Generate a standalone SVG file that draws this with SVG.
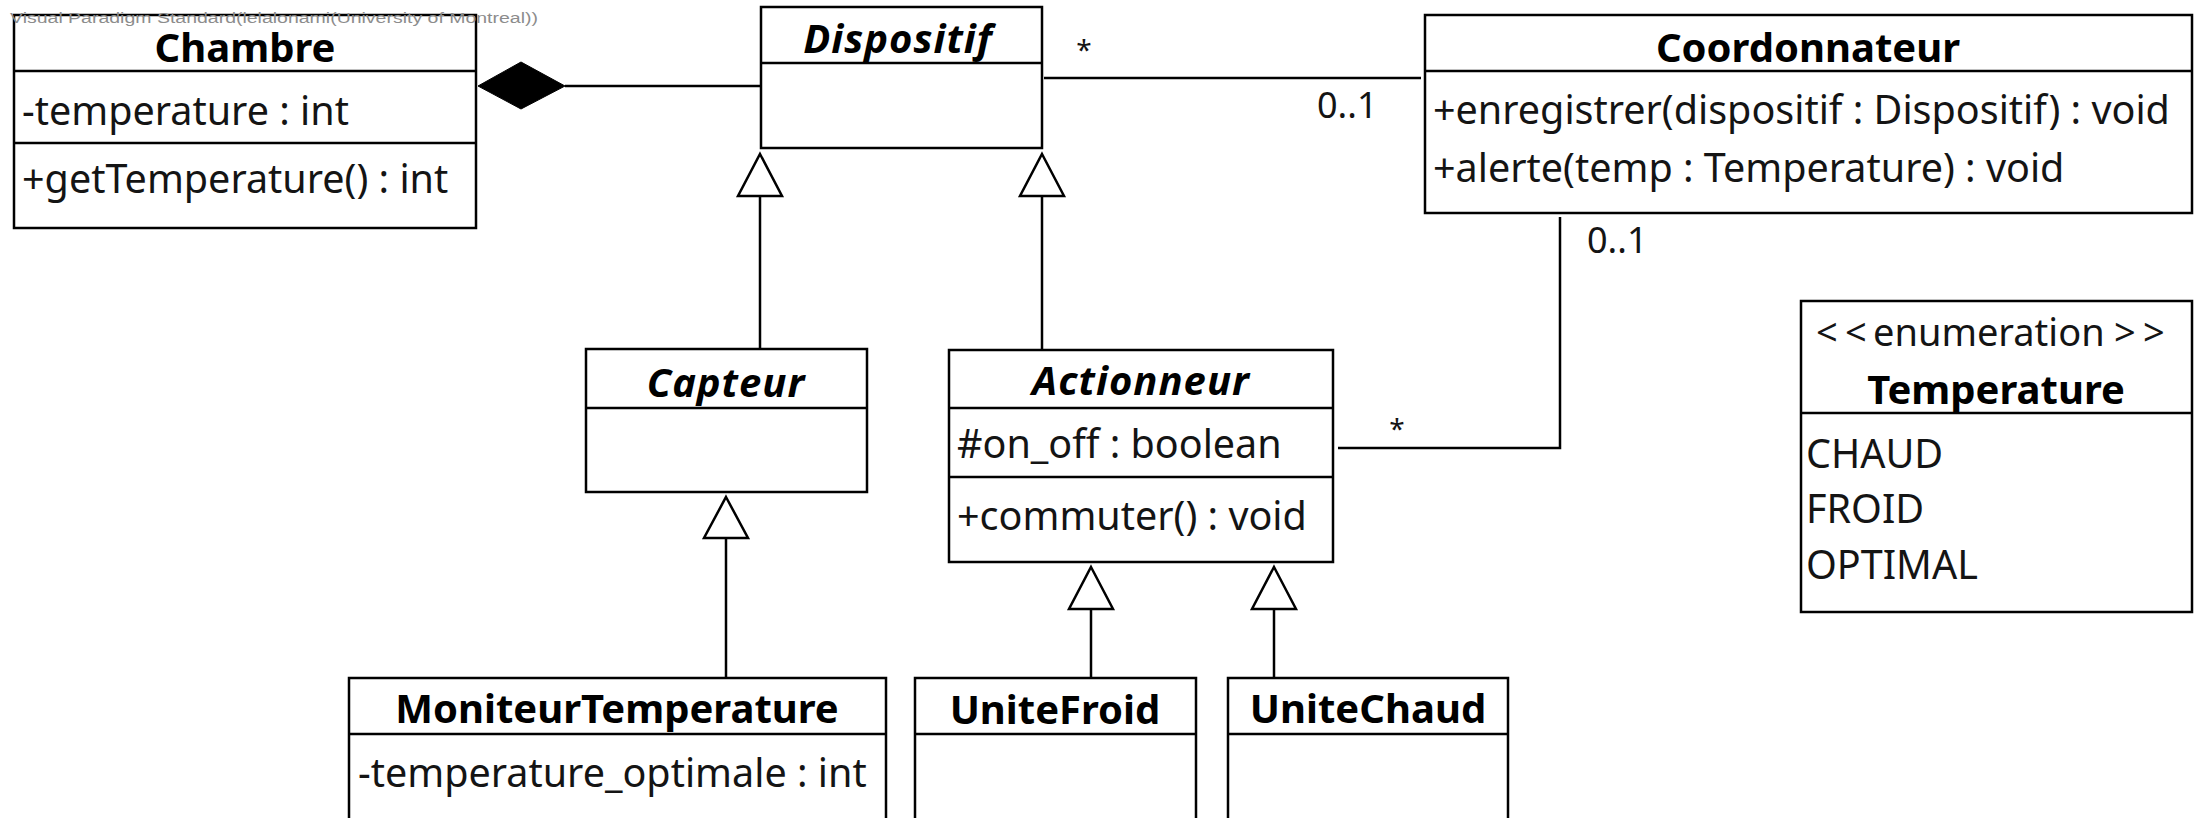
<svg xmlns="http://www.w3.org/2000/svg" width="2206" height="818" viewBox="0 0 2206 818">
  <style>
    .box { fill: #ffffff; stroke: #000000; stroke-width: 2.5; }
    .sep { stroke: #000000; stroke-width: 2.5; }
    .edge { fill: none; stroke: #000000; stroke-width: 2.5; }
    .gen { fill: #ffffff; stroke: #000000; stroke-width: 2.5; stroke-linejoin: miter; }
    .comp { fill: #000000; stroke: #000000; stroke-width: 1; }
    .title { font-family: "Noto Sans", "Open Sans", sans-serif; font-size: 40px; font-weight: bold; fill: #000000; text-anchor: middle; }
    .abstract { font-style: italic; letter-spacing: 1px; }
    .member { font-family: "Noto Sans", "Open Sans", sans-serif; font-size: 39.5px; fill: #141414; }
    .stereo { font-family: "Noto Sans", "Open Sans", sans-serif; font-size: 38px; fill: #141414; }
    .mult { font-family: "Noto Sans", "Open Sans", sans-serif; font-size: 36px; fill: #141414; }
    .star { font-family: "Noto Sans", "Open Sans", sans-serif; font-size: 28px; fill: #141414; text-anchor: middle; }
    .mark { font-family: "Liberation Sans", Arial, sans-serif; font-size: 14px; fill: #8c8c8c; }
  </style>

  <rect x="0" y="0" width="2206" height="818" fill="#ffffff"/>

  <!-- connectors -->
  <g id="connectors">
    <!-- composition Chambre <>- Dispositif -->
    <line class="edge" x1="565" y1="86" x2="760" y2="86"/>
    <polygon class="comp" points="478,86 521,62 565,86 521,109"/>

    <!-- association Dispositif - Coordonnateur -->
    <line class="edge" x1="1044" y1="78" x2="1421" y2="78"/>
    <text class="star" x="1084" y="60">*</text>
    <text class="mult" x="1317" y="118">0..1</text>

    <!-- association Actionneur - Coordonnateur -->
    <polyline class="edge" points="1338,448 1560,448 1560,217"/>
    <text class="star" x="1397" y="439">*</text>
    <text class="mult" x="1587" y="253">0..1</text>

    <!-- Capteur -> Dispositif -->
    <line class="edge" x1="760" y1="196" x2="760" y2="349"/>
    <polygon class="gen" points="760,154 782,196 738,196"/>

    <!-- Actionneur -> Dispositif -->
    <line class="edge" x1="1042" y1="196" x2="1042" y2="350"/>
    <polygon class="gen" points="1042,154 1064,196 1020,196"/>

    <!-- MoniteurTemperature -> Capteur -->
    <line class="edge" x1="726" y1="538" x2="726" y2="678"/>
    <polygon class="gen" points="726,497 748,538 704,538"/>

    <!-- UniteFroid -> Actionneur -->
    <line class="edge" x1="1091" y1="609" x2="1091" y2="678"/>
    <polygon class="gen" points="1091,567 1113,609 1069,609"/>

    <!-- UniteChaud -> Actionneur -->
    <line class="edge" x1="1274" y1="609" x2="1274" y2="678"/>
    <polygon class="gen" points="1274,567 1296,609 1252,609"/>
  </g>

  <!-- Chambre -->
  <g id="chambre">
    <rect class="box" x="14" y="15" width="462" height="213"/>
    <line class="sep" x1="14" y1="71" x2="476" y2="71"/>
    <line class="sep" x1="14" y1="143" x2="476" y2="143"/>
    <text class="title" x="245" y="62">Chambre</text>
    <text class="member" x="22" y="125">-temperature : int</text>
    <text class="member" x="22" y="193">+getTemperature() : int</text>
  </g>

  <text class="mark" x="10" y="23" textLength="528" lengthAdjust="spacingAndGlyphs">Visual Paradigm Standard(lelalonami(University of Montreal))</text>

  <!-- Dispositif -->
  <g id="dispositif">
    <rect class="box" x="761" y="7" width="281" height="141"/>
    <line class="sep" x1="761" y1="63" x2="1042" y2="63"/>
    <text class="title abstract" x="898" y="53">Dispositif</text>
  </g>

  <!-- Coordonnateur -->
  <g id="coordonnateur">
    <rect class="box" x="1425" y="15" width="767" height="198"/>
    <line class="sep" x1="1425" y1="71" x2="2192" y2="71"/>
    <text class="title" x="1808" y="62">Coordonnateur</text>
    <text class="member" x="1433" y="124">+enregistrer(dispositif : Dispositif) : void</text>
    <text class="member" x="1433" y="182">+alerte(temp : Temperature) : void</text>
  </g>

  <!-- Capteur -->
  <g id="capteur">
    <rect class="box" x="586" y="349" width="281" height="143"/>
    <line class="sep" x1="586" y1="408" x2="867" y2="408"/>
    <text class="title abstract" x="726" y="397">Capteur</text>
  </g>

  <!-- Actionneur -->
  <g id="actionneur">
    <rect class="box" x="949" y="350" width="384" height="212"/>
    <line class="sep" x1="949" y1="408" x2="1333" y2="408"/>
    <line class="sep" x1="949" y1="477" x2="1333" y2="477"/>
    <text class="title abstract" x="1141" y="395">Actionneur</text>
    <text class="member" x="957" y="458">#on_off : boolean</text>
    <text class="member" x="957" y="530">+commuter() : void</text>
  </g>

  <!-- MoniteurTemperature -->
  <g id="moniteurTemperature">
    <rect class="box" x="349" y="678" width="537" height="160"/>
    <line class="sep" x1="349" y1="734" x2="886" y2="734"/>
    <text class="title" x="617" y="723">MoniteurTemperature</text>
    <text class="member" x="358" y="787">-temperature_optimale : int</text>
  </g>

  <!-- UniteFroid -->
  <g id="uniteFroid">
    <rect class="box" x="915" y="678" width="281" height="160"/>
    <line class="sep" x1="915" y1="734" x2="1196" y2="734"/>
    <text class="title" x="1055" y="724">UniteFroid</text>
  </g>

  <!-- UniteChaud -->
  <g id="uniteChaud">
    <rect class="box" x="1228" y="678" width="280" height="160"/>
    <line class="sep" x1="1228" y1="734" x2="1508" y2="734"/>
    <text class="title" x="1368" y="723">UniteChaud</text>
  </g>

  <!-- Temperature (enumeration) -->
  <g id="temperature">
    <rect class="box" x="1801" y="301" width="391" height="311"/>
    <line class="sep" x1="1801" y1="413" x2="2192" y2="413"/>
    <text class="stereo" y="346"><tspan x="1816">&lt;</tspan><tspan x="1845">&lt;</tspan><tspan x="1873">enumeration</tspan><tspan x="2114">&gt;</tspan><tspan x="2143">&gt;</tspan></text>
    <text class="title" x="1996" y="404">Temperature</text>
    <text class="member" x="1806" y="468">CHAUD</text>
    <text class="member" x="1806" y="523">FROID</text>
    <text class="member" x="1806" y="579">OPTIMAL</text>
  </g>
</svg>
